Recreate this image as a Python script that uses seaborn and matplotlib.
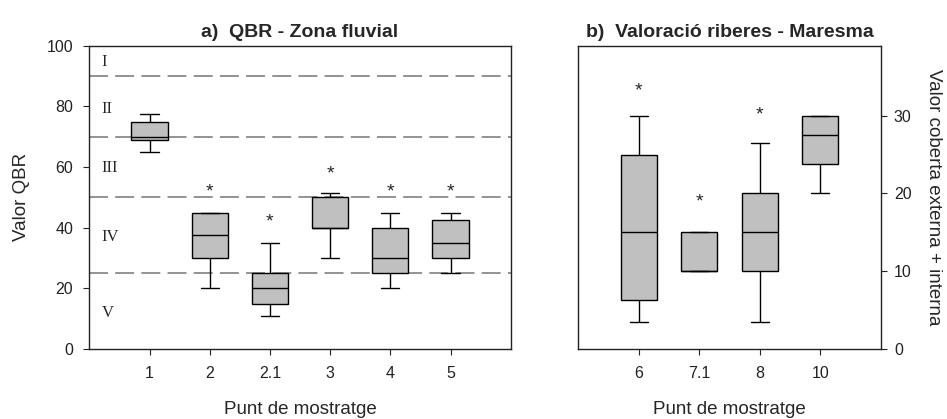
import numpy as np
import pandas as pd
import matplotlib
matplotlib.use("Agg")
import matplotlib.pyplot as plt
import matplotlib.transforms as mtransforms
import seaborn as sns

# --- Panel a) QBR per sampling point: whisker low, Q1, median, Q3, whisker high
punts_a = ["1", "2", "2.1", "3", "4", "5"]
min_a = [65, 20, 11, 30, 20, 25]
q1_a = [69, 30, 15, 40, 25, 30]
med_a = [70, 37.5, 20, 40, 30, 35]
q3_a = [75, 45, 25, 50, 40, 42.5]
max_a = [77.5, 45, 35, 51.5, 45, 45]
estrelles_a = [None, 52.5, 42.6, 58.5, 52.5, 52.5]

# QBR quality class limits and labels
limits_qbr = [90, 70, 50, 25]
classes = ["I", "II", "III", "IV", "V"]
classes_y = [94.6, 79.2, 59.7, 37, 12]

# --- Panel b) riparian cover (external + internal)
punts_b = ["6", "7.1", "8", "10"]
min_b = [3.5, 10, 3.5, 20]
q1_b = [6.3, 10, 10, 23.8]
med_b = [15, 10, 15, 27.5]
q3_b = [25, 15, 20, 30]
max_b = [30, 15, 26.5, 30]
estrelles_b = [33.5, 19.2, 30.4, None]


def summary_frame(punts, mins, q1s, meds, q3s, maxs):
    """Five values per point; with whiskers at the 0/100 percentiles they
    reproduce exactly the box statistics."""
    rows = []
    for p, a, b, c, d, e in zip(punts, mins, q1s, meds, q3s, maxs):
        for v in (a, b, c, d, e):
            rows.append({"punt": p, "valor": v})
    return pd.DataFrame(rows)


df_a = summary_frame(punts_a, min_a, q1_a, med_a, q3_a, max_a)
df_b = summary_frame(punts_b, min_b, q1_b, med_b, q3_b, max_b)

sns.set_theme(style="ticks")
plt.rcParams["font.family"] = ["Liberation Sans", "DejaVu Sans"]
plt.rcParams["axes.edgecolor"] = "#222222"
plt.rcParams["xtick.color"] = "#222222"
plt.rcParams["ytick.color"] = "#222222"

fig = plt.figure(figsize=(9.47, 4.19), dpi=100)
ax1 = fig.add_axes([0.0943, 0.167, 0.445, 0.724])
ax2 = fig.add_axes([0.6107, 0.167, 0.3193, 0.724])

box_kw = dict(x="punt", y="valor", whis=(0, 100), width=0.6, color="#c0c0c0",
              saturation=1, linecolor="black", linewidth=1.0, fliersize=0)

sns.boxplot(data=df_a, order=punts_a, ax=ax1, **box_kw)
sns.boxplot(data=df_b, order=punts_b, ax=ax2, **box_kw)

label_fs = 13.5
title_fs = 14


def draw_stars(ax, values):
    # the asterisk glyph sits high in its box, nudge it down a little
    tr = mtransforms.offset_copy(ax.transData, fig=fig, y=-2.5, units="dots")
    for i, s in enumerate(values):
        if s is not None:
            ax.text(i, s, "*", fontsize=14, ha="center", va="center",
                    transform=tr)


# Panel a
for lim in limits_qbr:
    ax1.axhline(lim, color="#8a8a8a", lw=1.3, linestyle=(0, (10.5, 4)), zorder=0)
for lab, yy in zip(classes, classes_y):
    ax1.text(-0.8, yy, lab, family="Liberation Serif", fontsize=12,
             ha="left", va="center")
draw_stars(ax1, estrelles_a)

ax1.set_xlim(-1, 6)
ax1.set_ylim(0, 100)
ax1.set_yticks(np.arange(0, 101, 20))
ax1.set_xlabel("Punt de mostratge", fontsize=label_fs, labelpad=14)
ax1.set_ylabel("Valor QBR", fontsize=label_fs, labelpad=12)
ax1.set_title("a)  QBR - Zona fluvial", fontsize=title_fs, fontweight="bold", pad=6)

# Panel b
draw_stars(ax2, estrelles_b)

ax2.set_xlim(-1, 4)
ax2.set_ylim(0, 39)
ax2.set_yticks([0, 10, 20, 30])
ax2.yaxis.tick_right()
ax2.yaxis.set_label_position("right")
ax2.set_xlabel("Punt de mostratge", fontsize=label_fs, labelpad=14)
ax2.set_ylabel("Valor coberta externa + interna", fontsize=label_fs,
               rotation=-90, labelpad=22)
ax2.set_title("b)  Valoració riberes - Maresma", fontsize=title_fs,
              fontweight="bold", pad=6)

for ax in (ax1, ax2):
    for sp in ax.spines.values():
        sp.set_visible(True)
        sp.set_linewidth(1.0)
    ax.tick_params(axis="both", labelsize=11.5, length=4.5, width=0.8)
    ax.tick_params(axis="x", pad=8)
ax1.tick_params(axis="y", pad=7)
ax2.tick_params(axis="y", pad=5)

fig.savefig("out.png", dpi=100)
